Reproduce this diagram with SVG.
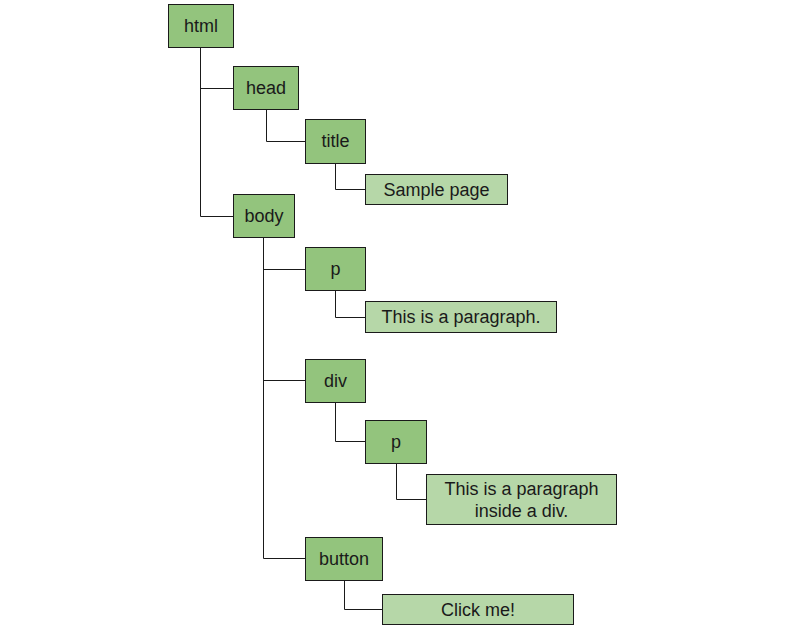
<svg xmlns="http://www.w3.org/2000/svg" width="786" height="628" viewBox="0 0 786 628">
<style>
.n rect{fill:#93c47d;stroke:#1a1a1a;stroke-width:1}
.t rect{fill:#b6d7a8;stroke:#1a1a1a;stroke-width:1}
text{font-family:"Liberation Sans",Arial,sans-serif;font-size:18px;fill:#1a1a1a;text-anchor:middle;dominant-baseline:central}
.c path{fill:none;stroke:#1a1a1a;stroke-width:1}
</style>
<rect width="786" height="628" fill="#fff"/>
<g class="c" id="connectors">
<path d="M200.5 47V216.5H233"/>
<path d="M200.5 88.5H233"/>
<path d="M266.5 109V141.5H305"/>
<path d="M335.5 163V189.5H365"/>
<path d="M263.5 237V558.5H305"/>
<path d="M263.5 269.5H305"/>
<path d="M263.5 380.5H305"/>
<path d="M335.5 290V317.5H365"/>
<path d="M335.5 402V441.5H365"/>
<path d="M396.5 463V499.5H426"/>
<path d="M344.5 580V609.5H382"/>
</g>
<g class="n" id="html"><rect x="168.5" y="4.5" width="65" height="43"/><text x="201" y="26">html</text></g>
<g class="n" id="head"><rect x="233.5" y="66.5" width="65" height="43"/><text x="266" y="88">head</text></g>
<g class="n" id="title"><rect x="305.5" y="119.5" width="60" height="44"/><text x="335.5" y="141">title</text></g>
<g class="t" id="title-text"><rect x="365.5" y="174.5" width="142" height="30"/><text x="436.5" y="190">Sample page</text></g>
<g class="n" id="body"><rect x="233.5" y="194.5" width="61" height="43"/><text x="264" y="216">body</text></g>
<g class="n" id="p1"><rect x="305.5" y="247.5" width="60" height="43"/><text x="335.5" y="269">p</text></g>
<g class="t" id="p1-text"><rect x="365.5" y="301.5" width="191" height="31"/><text x="461" y="317">This is a paragraph.</text></g>
<g class="n" id="div"><rect x="305.5" y="359.5" width="60" height="43"/><text x="335.5" y="381">div</text></g>
<g class="n" id="p2"><rect x="365.5" y="420.5" width="61" height="43"/><text x="396" y="442">p</text></g>
<g class="t" id="p2-text"><rect x="426.5" y="474.5" width="190" height="50"/><text x="521.5" y="489">This is a paragraph</text><text x="521.5" y="511">inside a div.</text></g>
<g class="n" id="button"><rect x="305.5" y="537.5" width="77" height="43"/><text x="344" y="559">button</text></g>
<g class="t" id="button-text"><rect x="382.5" y="594.5" width="191" height="30"/><text x="478" y="610">Click me!</text></g>
</svg>
